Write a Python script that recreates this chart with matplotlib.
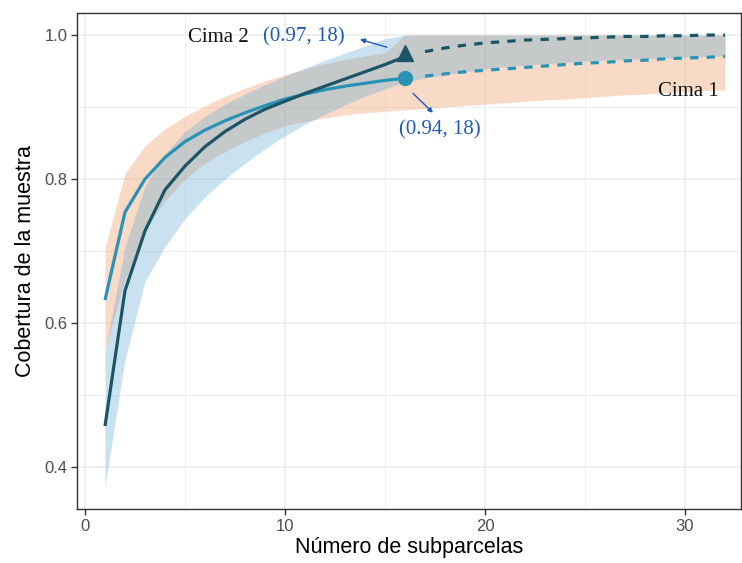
import matplotlib
matplotlib.use("Agg")
import matplotlib.pyplot as plt
import numpy as np

# ---- data ----
x_obs = list(range(1, 17))
x_ext = list(range(16, 33))
x_all = list(range(1, 33))

cima1_obs = [0.632, 0.754, 0.80, 0.83, 0.852, 0.868, 0.881, 0.892, 0.902, 0.911,
             0.918, 0.924, 0.929, 0.933, 0.937, 0.94]
cima2_obs = [0.457, 0.645, 0.728, 0.785, 0.818, 0.845, 0.866, 0.883, 0.897, 0.908,
             0.919, 0.929, 0.939, 0.949, 0.959, 0.97]

cima1_ext = [0.94, 0.943, 0.946, 0.949, 0.951, 0.953, 0.955, 0.957, 0.959, 0.961,
             0.962, 0.964, 0.965, 0.967, 0.968, 0.969, 0.97]
cima2_ext = [0.97, 0.977, 0.982, 0.986, 0.989, 0.991, 0.993, 0.994, 0.995, 0.996,
             0.997, 0.998, 0.998, 0.999, 0.999, 1.0, 1.0]

cima1_lo = [0.5625, 0.66, 0.73, 0.77, 0.80, 0.822, 0.838, 0.852, 0.864, 0.874,
            0.88, 0.885, 0.889, 0.892, 0.894, 0.896, 0.898, 0.90, 0.902, 0.904,
            0.906, 0.908, 0.91, 0.911, 0.913, 0.915, 0.917, 0.918, 0.92, 0.921,
            0.923, 0.924]
cima1_hi = [0.704, 0.808, 0.846, 0.87, 0.887, 0.902, 0.915, 0.926, 0.936, 0.945,
            0.953, 0.96, 0.966, 0.971, 0.975] + [1.0] * 17
cima2_lo = [0.373, 0.549, 0.658, 0.706, 0.745, 0.775, 0.80, 0.822, 0.842, 0.86,
            0.876, 0.89, 0.903, 0.915, 0.925, 0.935, 0.94, 0.945, 0.949, 0.953,
            0.956, 0.958, 0.96, 0.962, 0.964, 0.965, 0.966, 0.967, 0.968, 0.969,
            0.97, 0.971]
cima2_hi = [0.56, 0.706, 0.79, 0.835, 0.866, 0.887, 0.904, 0.918, 0.931, 0.943,
            0.954, 0.965, 0.975, 0.985, 0.995] + [1.0] * 17

obs_n = 16
cima1_ref = 0.94
cima2_ref = 0.975

x_ticks = [0, 10, 20, 30]
y_ticks = [0.4, 0.6, 0.8, 1.0]

# ---- style ----
c1 = "#2893b4"
c2 = "#1b5566"
ann_blue = "#1f5cb8"
serif = ["Liberation Serif", "DejaVu Serif"]
sans = ["Liberation Sans", "DejaVu Sans"]

fig = plt.figure(figsize=(7.42, 5.63), dpi=100)
ax = fig.add_axes([77 / 742, 1 - 509 / 563, 664 / 742, (509 - 13) / 563])

ax.fill_between(x_all, cima1_lo, cima1_hi, color="#f2a87a", alpha=0.42, lw=0, zorder=2)
ax.fill_between(x_all, cima2_lo, cima2_hi, color="#5fa8d3", alpha=0.33, lw=0, zorder=3)

ax.plot(x_obs, cima1_obs, color=c1, lw=2.3, zorder=5, solid_capstyle="butt")
ax.plot(x_obs, cima2_obs, color=c2, lw=2.3, zorder=5, solid_capstyle="butt")
ax.plot(x_ext[1:], cima1_ext[1:], color=c1, lw=2.3, ls=(0, (2.6, 2.6)), zorder=5)
ax.plot(x_ext[1:], cima2_ext[1:], color=c2, lw=2.3, ls=(0, (2.6, 2.6)), zorder=5)
ax.plot([obs_n], [cima1_ref], marker="o", ms=10, color=c1, zorder=6)
ax.plot([obs_n], [cima2_ref], marker="^", ms=11, color=c2, zorder=6)

# annotations
fs_ann = 15
ax.text(6.65, 0.997, "Cima 2", family=serif, fontsize=fs_ann, color="#111111",
        ha="center", va="center", zorder=7)
ax.text(10.95, 0.997, "(0.97, 18)", family=serif, fontsize=fs_ann, color=ann_blue,
        ha="center", va="center", zorder=7)
ax.text(17.75, 0.868, "(0.94, 18)", family=serif, fontsize=fs_ann, color=ann_blue,
        ha="center", va="center", zorder=7)
ax.text(30.15, 0.922, "Cima 1", family=serif, fontsize=fs_ann, color="#111111",
        ha="center", va="center", zorder=7)
ax.annotate("", xy=(13.75, 0.994), xytext=(15.1, 0.983),
            arrowprops=dict(arrowstyle="-|>", color=ann_blue, lw=1.0,
                            mutation_scale=7, shrinkA=0, shrinkB=0), zorder=7)
ax.annotate("", xy=(17.4, 0.892), xytext=(16.4, 0.919),
            arrowprops=dict(arrowstyle="-|>", color=ann_blue, lw=1.0,
                            mutation_scale=7, shrinkA=0, shrinkB=0), zorder=7)

# axes
ax.set_xlim(-0.4, 32.8)
ax.set_ylim(0.3417, 1.0306)
ax.set_xticks(x_ticks)
ax.set_yticks(y_ticks)
ax.set_xticklabels([str(t) for t in x_ticks], family=sans)
ax.set_yticklabels([f"{t:.1f}" for t in y_ticks], family=sans)
ax.set_xticks([5, 15, 25], minor=True)
ax.set_yticks([0.5, 0.7, 0.9], minor=True)
ax.grid(which="major", color="#ebebeb", lw=1.1, zorder=0)
ax.grid(which="minor", color="#ebebeb", lw=0.6, zorder=0)
ax.set_axisbelow(True)
ax.tick_params(which="major", length=4, width=1, color="#333333",
               labelsize=12, labelcolor="#4d4d4d", pad=3)
ax.tick_params(which="minor", length=0)
for s in ax.spines.values():
    s.set_color("#333333")
    s.set_linewidth(1.0)

ax.set_xlabel("Número de subparcelas", family=sans, fontsize=15.5, labelpad=2)
ax.set_ylabel("Cobertura de la muestra", family=sans, fontsize=15.5, labelpad=6)

fig.savefig("out.png", dpi=100)
